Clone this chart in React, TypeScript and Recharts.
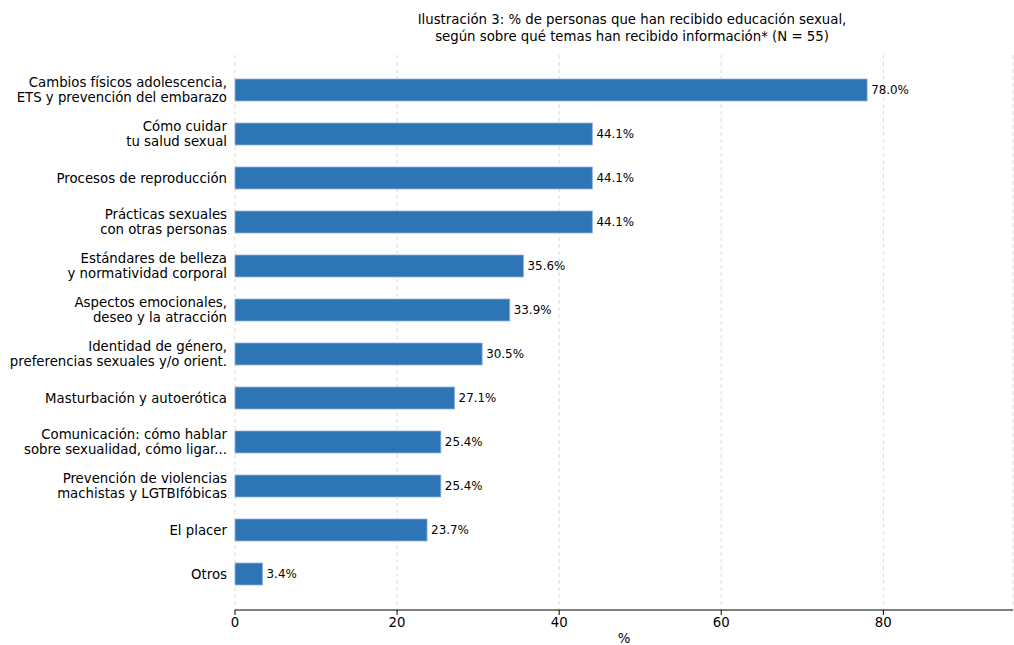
import React from "react";
import { BarChart, Bar, XAxis, YAxis, CartesianGrid, LabelList } from "recharts";

const temas = [
  "Cambios físicos adolescencia,\nETS y prevención del embarazo",
  "Cómo cuidar\ntu salud sexual",
  "Procesos de reproducción",
  "Prácticas sexuales\ncon otras personas",
  "Estándares de belleza\ny normatividad corporal",
  "Aspectos emocionales,\ndeseo y la atracción",
  "Identidad de género,\npreferencias sexuales y/o orient.",
  "Masturbación y autoerótica",
  "Comunicación: cómo hablar\nsobre sexualidad, cómo ligar...",
  "Prevención de violencias\nmachistas y LGTBIfóbicas",
  "El placer",
  "Otros",
];
const porcentajes = [78.0, 44.1, 44.1, 44.1, 35.6, 33.9, 30.5, 27.1, 25.4, 25.4, 23.7, 3.4];
const xTicks = [0, 20, 40, 60, 80];

const data = temas.map((tema, i) => ({ tema, pct: porcentajes[i] }));

const FONT = "'DejaVu Sans', sans-serif";

const CategoryTick = (props: any) => {
  const { x, y, payload } = props;
  const lines = String(payload.value).split("\n");
  const lh = 15.5;
  const start = y - ((lines.length - 1) * lh) / 2;
  return (
    <text x={x} y={y} textAnchor="end" fontSize={13.3} fill="#000" fontFamily={FONT}>
      {lines.map((l, i) => (
        <tspan key={i} x={x} y={start + i * lh} dy="0.35em">
          {l}
        </tspan>
      ))}
    </text>
  );
};

const App = () => (
  <div style={{ position: "absolute", left: 0, top: 0, width: 1014, height: 645, fontFamily: FONT, background: "#fff" }}>
    <div
      style={{
        position: "absolute",
        left: 332,
        width: 600,
        top: 12,
        textAlign: "center",
        fontSize: 13.3,
        lineHeight: "16.5px",
        color: "#000",
      }}
    >
      Ilustración 3: % de personas que han recibido educación sexual,
      <br />
      según sobre qué temas han recibido información* (N = 55)
    </div>
    <BarChart
      width={1014}
      height={645}
      data={data}
      layout="vertical"
      margin={{ top: 55, right: 1, left: 0, bottom: 0 }}
    >
      <CartesianGrid horizontal={false} stroke="#dddddd" strokeDasharray="4 3" />
      <XAxis
        type="number"
        domain={[0, 96]}
        ticks={xTicks}
        height={35}
        axisLine={{ stroke: "#000" }}
        tickLine={{ stroke: "#000" }}
        tickSize={5}
        tickMargin={3}
        tick={{ fontSize: 13.3, fill: "#000", fontFamily: FONT }}
        label={{ value: "%", position: "insideBottom", offset: 2, fontSize: 13.3, fill: "#000", fontFamily: FONT }}
      />
      <YAxis
        type="category"
        dataKey="tema"
        width={235}
        axisLine={false}
        tickLine={false}
        interval={0}
        padding={{ top: 13, bottom: 14 }}
        tick={<CategoryTick />}
      />
      <Bar dataKey="pct" fill="#2e75b6" stroke="#8fb4df" strokeWidth={0.8} barSize={22} isAnimationActive={false}>
        <LabelList
          dataKey="pct"
          position="right"
          offset={4}
          formatter={(v: any) => `${Number(v).toFixed(1)}%`}
          style={{ fontSize: 11.9, fill: "#000", fontFamily: FONT }}
        />
      </Bar>
    </BarChart>
  </div>
);

export default App;
